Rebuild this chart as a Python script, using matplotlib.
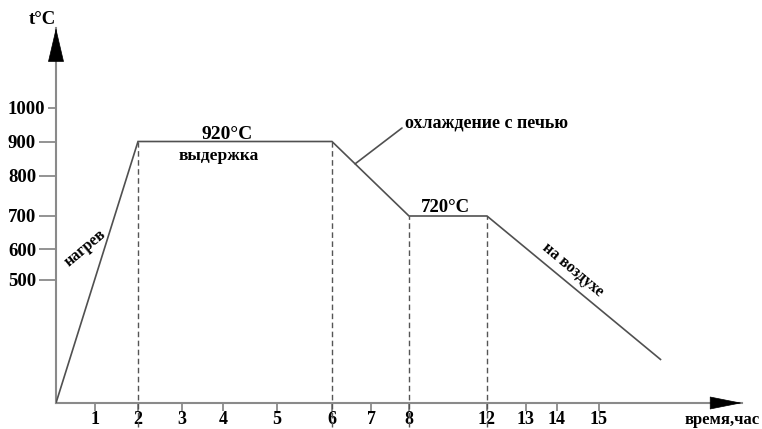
import numpy as np
import matplotlib
matplotlib.use('Agg')
import matplotlib.pyplot as plt
from matplotlib.scale import FuncScale

plt.rcParams['font.family'] = ['Liberation Serif', 'DejaVu Serif']

# ---- data ----
hours = [0, 2, 6, 8, 12, 16.5]
temps = [20, 900, 900, 700, 700, 190]
x_ticks = [1, 2, 3, 4, 5, 6, 7, 8, 12, 13, 14, 15]
y_ticks = [500, 600, 700, 800, 900, 1000]
hold_labels = ['920°C', '720°C']
stage_labels = ['нагрев', 'выдержка', 'охлаждение с печью', 'на воздухе']
x_title = 'время,час'
y_title = 't°C'

# ---- schematic (non-uniform) axis calibration ----
x_anchor_h = [-10, 0, 1, 2, 3, 4, 5, 6, 7, 8, 12, 13, 14, 15, 20]
x_anchor_u = [-390, 0, 39, 82, 126, 167, 221, 276, 315, 353, 431, 470, 501, 543, 748]
y_anchor_t = [-500, 20, 500, 600, 700, 800, 900, 1000, 1500]
y_anchor_u = [-133, 0, 123, 154, 187, 227, 261.5, 295, 465]

def xf(v): return np.interp(v, x_anchor_h, x_anchor_u)
def xi(u): return np.interp(u, x_anchor_u, x_anchor_h)
def yf(v): return np.interp(v, y_anchor_t, y_anchor_u)
def yi(u): return np.interp(u, y_anchor_u, y_anchor_t)

W, H = 762, 429
fig = plt.figure(figsize=(W / 100, H / 100), dpi=100)
ax = fig.add_axes([56 / W, 26 / H, (742 - 56) / W, (403 - 28) / H])
ax.set_xscale(FuncScale(ax.xaxis, (xf, xi)))
ax.set_yscale(FuncScale(ax.yaxis, (yf, yi)))
ax.set_xlim(0, float(xi(686)))
ax.set_ylim(20, float(yi(375)))

axis_col = '#8a8a8a'
line_col = '#505050'
for s in ['top', 'right']:
    ax.spines[s].set_visible(False)
for s in ['left', 'bottom']:
    ax.spines[s].set_color(axis_col)
    ax.spines[s].set_linewidth(1.5)

# ticks
ax.set_xticks(x_ticks)
ax.set_xticklabels([str(t) for t in x_ticks])
ax.set_yticks(y_ticks)
ax.set_yticklabels([str(t) for t in y_ticks])
ax.tick_params(axis='x', direction='out', length=5.8, width=1.3, color=axis_col,
               pad=0.3, labelsize=13)
ax.tick_params(axis='y', direction='out', length=12, width=1.3, color=axis_col,
               pad=22.6, labelsize=13.5)
for lab in ax.get_xticklabels() + ax.get_yticklabels():
    lab.set_fontweight('bold')
for lab in ax.get_yticklabels():
    lab.set_horizontalalignment('left')
ax.yaxis.get_major_ticks()[-1].tick1line.set_markersize(5.8)
ax.minorticks_off()

# process curve
ax.plot(hours, temps, color=line_col, lw=1.2, solid_joinstyle='miter', zorder=3)

# dashed verticals at stage boundaries
fig.canvas.draw()
for h, t in zip(hours[1:5], temps[1:5]):
    frac = ax.transAxes.inverted().transform(ax.transData.transform((h, t)))[1]
    ax.plot([h, h], [-0.065, frac], transform=ax.get_xaxis_transform(),
            color='#555555', lw=1.0, ls=(0, (4, 2.5)), clip_on=False, zorder=2)

# axis arrows
ax.annotate('', xy=(0, 1), xytext=(0, 1 - 32 / 375), xycoords='axes fraction',
            arrowprops=dict(arrowstyle='-|>,head_length=23,head_width=5.4',
                            mutation_scale=1, color='black', lw=0.5,
                            shrinkA=0, shrinkB=0))
ax.annotate('', xy=(1, 0), xytext=(1 - 30 / 686, 0), xycoords='axes fraction',
            arrowprops=dict(arrowstyle='-|>,head_length=21.6,head_width=4.3',
                            mutation_scale=1, color='black', lw=0.5,
                            shrinkA=0, shrinkB=0))

def fp(x, y):
    return (x / W, 1 - y / H)

# titles
fig.text(*fp(42, 20), y_title, ha='center', va='center', fontsize=13.5, fontweight='bold')
fig.text(*fp(722, 420), x_title, ha='center', va='center', fontsize=12, fontweight='bold')

# hold temperature labels
fig.text(*fp(227, 134), hold_labels[0], ha='center', va='center', fontsize=14,
         fontweight='bold')
fig.text(*fp(445, 208), hold_labels[1], ha='center', va='center', fontsize=13.5,
         fontweight='bold')

# stage labels
fig.text(*fp(85, 248), stage_labels[0], ha='center', va='center', fontsize=11.5,
         fontweight='bold', rotation=40, rotation_mode='anchor')
fig.text(*fp(219, 156), stage_labels[1], ha='center', va='center', fontsize=12.5,
         fontweight='bold')
fig.text(*fp(405, 123), stage_labels[2], ha='left', va='center', fontsize=13,
         fontweight='bold')
fig.text(*fp(573, 270), stage_labels[3], ha='center', va='center', fontsize=11.5,
         fontweight='bold', rotation=-40, rotation_mode='anchor')

# leader line for furnace cooling
p = ax.transData.transform([(hours[2], temps[2]), (hours[3], temps[3])])
q = p[0] + 0.3 * (p[1] - p[0])
ax.annotate('', xy=(q[0], q[1]), xycoords='figure pixels',
            xytext=(402, H - 128), textcoords='figure pixels',
            arrowprops=dict(arrowstyle='-', color=line_col, lw=1.2,
                            shrinkA=0, shrinkB=0))

fig.savefig('out.png', dpi=100)
